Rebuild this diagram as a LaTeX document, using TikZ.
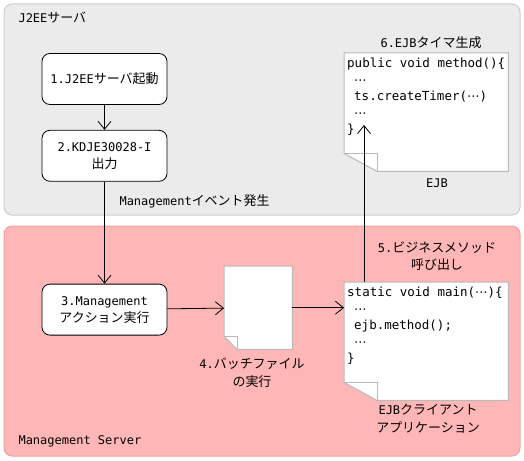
\documentclass[tikz,border=0pt]{standalone}
\usepackage{fontspec}
\setmainfont{DejaVu Sans Mono}
\newfontfamily\jp[Scale=1.08]{Noto Sans CJK JP}
\newfontfamily\symf{DejaVu Sans}
\usepackage{tikz}
\usetikzlibrary{arrows.meta,positioning}
\definecolor{srvgray}{RGB}{235,235,235}
\definecolor{srvline}{RGB}{205,205,205}
\definecolor{mgpink}{RGB}{255,182,182}
\definecolor{mgline}{RGB}{242,160,160}
\definecolor{paperline}{RGB}{185,185,185}
\newcommand{\midots}{{\symf ⋯}}

% paper sheet with folded bottom-left corner
\newcommand{\docpaper}[3]{%
  \draw[paperline,line width=1pt,fill=white] ([yshift=#3]#1.south west) -- (#1.north west)
    -- (#1.north east) -- (#1.south east) -- ([xshift=#2]#1.south west) -- cycle;
  \draw[paperline,line width=1pt] ([yshift=#3]#1.south west) -| ([xshift=#2]#1.south west);}

\begin{document}
\begin{tikzpicture}[x=1pt,y=-1pt, >={Straight Barb[length=8pt,width=13pt]},
  font=\fontsize{12}{17}\selectfont,
  area/.style={rounded corners=8pt,line width=1pt},
  pbox/.style={draw,line width=0.8pt,rounded corners=8pt,fill=white,
               minimum width=125pt,minimum height=51pt,align=center},
  doc/.style={inner sep=0pt,anchor=north west},
  lbl/.style={align=center,font=\fontsize{12}{17.5}\selectfont},
  code/.style={align=left,anchor=north west,inner sep=0pt,
               font=\fontsize{12.5}{16.5}\selectfont},
  flow/.style={->,line width=0.8pt}]
  \useasboundingbox (0,0) rectangle (524,460);
  \draw[area,fill=srvgray,draw=srvline] (4,4) rectangle (520,215);
  \draw[area,fill=mgpink,draw=mgline] (4,226) rectangle (520,456);
  \node[anchor=west] (j2ee) at (15,17) {J2EE{\jp サーバ}};
  \node[anchor=west] (mgsrv) at (15,441) {Management Server};

  \node[pbox] (start) at (104.5,79) {1.J2EE{\jp サーバ起動}};
  \node[pbox,below=25pt of start] (msg) {2.KDJE30028-I\\{\jp 出力}};
  \node[pbox,below=102pt of msg] (act) {3.Management\\{\jp アクション実行}};
  \node[anchor=west] (mevt) at (116,201) {Management{\jp イベント発生}};

  \node[doc,minimum width=68pt,minimum height=83pt] (bat) at (224,266) {};
  \docpaper{bat}{13pt}{13pt}
  \node[lbl] (batl) at (252,372.5) {4.{\jp バッチファイル}\\{\jp の実行}};

  \node[doc,minimum width=164pt,minimum height=118pt] (cli) at (344,282) {};
  \docpaper{cli}{33pt}{18pt}
  \node[code] (clicode) at ([shift={(3,5)}]cli.north west)
    {static void main(\midots)\{\\\hspace{7pt}\midots\\\hspace{7pt}ejb.method();\\\hspace{7pt}\midots\\\}};
  \node[lbl] (clil) at (428,418.5) {EJB{\jp クライアント}\\{\jp アプリケーション}};
  \node[lbl] (callb) at (437,256) {5.{\jp ビジネスメソッド}\\{\jp 呼び出し}};

  \node[doc,minimum width=164pt,minimum height=118pt] (ejb) at (344,53) {};
  \docpaper{ejb}{33pt}{18pt}
  \node[code] (ejbcode) at ([shift={(3,5)}]ejb.north west)
    {public void method()\{\\\hspace{7pt}\midots\\\hspace{7pt}ts.createTimer(\midots)\\\hspace{7pt}\midots\\\}};
  \node[lbl] (ejbt) at (431,43) {6.EJB{\jp タイマ生成}};
  \node[lbl] (ejbl) at (437,183) {EJB};
  \coordinate (hit) at (364,125);

  \draw[flow] (start) -- (msg);
  \draw[flow] (msg) -- (act);
  \draw[flow] (act) -- (bat);
  \draw[flow] (bat.east) -- (bat.east -| cli.west);
  \draw[flow] (cli.north -| hit) -- (hit);
\end{tikzpicture}
\end{document}
